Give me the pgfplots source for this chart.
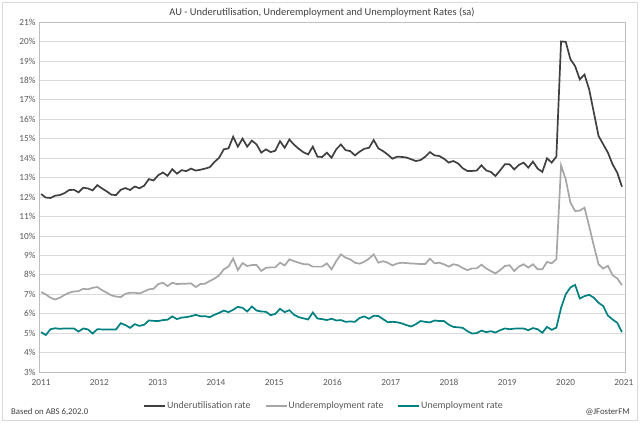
\documentclass[border=0pt]{standalone}
\usepackage{pgfplots}
\pgfplotsset{compat=1.18}
\usepackage{pgfplotstable}
\usepackage{fontspec}
\setmainfont{Carlito}
\definecolor{utl}{HTML}{404040}
\definecolor{uem}{HTML}{A6A6A6}
\definecolor{unr}{HTML}{008080}
\definecolor{txt}{HTML}{595959}
\definecolor{grd}{HTML}{D9D9D9}
\definecolor{frm}{HTML}{BFBFBF}
\pgfplotstableread{
m U UE UR
0 12.15 7.11 5.05
1 11.97 6.99 4.90
2 11.95 6.82 5.20
3 12.07 6.73 5.25
4 12.10 6.82 5.22
5 12.20 6.96 5.24
6 12.36 7.08 5.24
7 12.37 7.14 5.24
8 12.24 7.16 5.08
9 12.48 7.28 5.24
10 12.44 7.25 5.19
11 12.34 7.33 4.98
12 12.61 7.37 5.20
13 12.44 7.21 5.19
14 12.29 7.08 5.19
15 12.12 6.94 5.19
16 12.10 6.88 5.19
17 12.37 6.85 5.51
18 12.46 7.02 5.41
19 12.36 7.08 5.27
20 12.54 7.08 5.46
21 12.45 7.04 5.37
22 12.58 7.14 5.43
23 12.92 7.25 5.65
24 12.85 7.28 5.63
25 13.12 7.52 5.62
26 13.26 7.59 5.67
27 13.09 7.42 5.69
28 13.43 7.59 5.86
29 13.20 7.52 5.72
30 13.38 7.54 5.80
31 13.33 7.54 5.82
32 13.46 7.56 5.87
33 13.36 7.37 5.94
34 13.40 7.52 5.87
35 13.46 7.54 5.87
36 13.53 7.68 5.82
37 13.80 7.80 5.94
38 14.02 7.97 6.04
39 14.45 8.28 6.16
40 14.50 8.42 6.08
41 15.10 8.83 6.20
42 14.59 8.24 6.35
43 15.00 8.60 6.30
44 14.59 8.45 6.11
45 14.90 8.50 6.37
46 14.70 8.50 6.16
47 14.28 8.20 6.11
48 14.45 8.36 6.10
49 14.31 8.38 5.92
50 14.38 8.38 5.99
51 14.87 8.62 6.25
52 14.53 8.48 6.08
53 14.96 8.79 6.18
54 14.69 8.70 5.94
55 14.48 8.62 5.82
56 14.30 8.55 5.76
57 14.19 8.54 5.70
58 14.59 8.42 6.06
59 14.07 8.42 5.75
60 14.06 8.42 5.72
61 14.28 8.59 5.67
62 14.02 8.28 5.74
63 14.45 8.70 5.65
64 14.70 9.05 5.67
65 14.41 8.88 5.58
66 14.36 8.79 5.60
67 14.14 8.62 5.58
68 14.33 8.57 5.78
69 14.48 8.67 5.86
70 14.53 8.83 5.74
71 14.93 9.05 5.89
72 14.50 8.62 5.88
73 14.36 8.70 5.72
74 14.18 8.62 5.56
75 13.97 8.48 5.58
76 14.07 8.58 5.56
77 14.06 8.62 5.50
78 14.03 8.60 5.41
79 13.94 8.58 5.34
80 13.85 8.57 5.46
81 13.90 8.55 5.62
82 14.07 8.55 5.58
83 14.31 8.83 5.55
84 14.14 8.59 5.65
85 14.11 8.62 5.62
86 13.97 8.54 5.62
87 13.77 8.42 5.44
88 13.85 8.54 5.32
89 13.73 8.49 5.30
90 13.48 8.35 5.27
91 13.34 8.24 5.10
92 13.34 8.33 4.98
93 13.36 8.33 5.00
94 13.63 8.52 5.13
95 13.37 8.33 5.05
96 13.29 8.19 5.10
97 13.08 8.07 5.03
98 13.37 8.24 5.15
99 13.68 8.45 5.24
100 13.68 8.49 5.20
101 13.42 8.19 5.23
102 13.65 8.42 5.24
103 13.77 8.54 5.24
104 13.51 8.37 5.15
105 13.82 8.54 5.26
106 13.46 8.28 5.20
107 13.29 8.28 5.02
108 13.99 8.66 5.32
109 13.77 8.59 5.17
110 14.08 8.80 5.28
111 20.00 13.63 6.30
112 19.98 12.90 7.00
113 19.08 11.71 7.35
114 18.73 11.28 7.48
115 18.05 11.30 6.78
116 18.30 11.45 6.90
117 17.53 10.50 6.97
118 16.34 9.49 6.82
119 15.14 8.54 6.56
120 14.71 8.32 6.39
121 14.28 8.46 5.90
122 13.68 7.98 5.70
123 13.25 7.81 5.53
124 12.53 7.47 5.05
}\data
\begin{document}
\begin{tikzpicture}
\useasboundingbox (0,0) rectangle (640bp,423bp);
\draw[grd, line width=0.75bp] (2bp,2.5bp) rectangle (637.5bp,420.5bp);
\begin{axis}[
  at={(39bp,51bp)}, anchor=south west,
  scale only axis, width=586bp, height=350bp,
  xmin=-0.45, xmax=124.65, ymin=3, ymax=21,
  ytick={3,4,...,21},
  yticklabel={\pgfmathprintnumber{\tick}\%},
  xtick={0,12.44,24.88,37.32,49.76,62.2,74.64,87.08,99.52,111.96,124.4},
  xticklabels={2011,2012,2013,2014,2015,2016,2017,2018,2019,2020,2021},
  major tick length=0pt,
  ymajorgrids,
  major grid style={grd, line width=0.75bp},
  axis line style={frm, line width=0.75bp},
  /pgf/number format/assume math mode=true,
  tick label style={font=\fontsize{9.3}{10}\selectfont, text=txt},
  yticklabel style={xshift=0bp},
  xticklabel style={yshift=-3.5bp},
  legend style={at={(0.4855,-0.097)}, anchor=center, draw=none, fill=none,
    font=\fontsize{10}{11}\selectfont, text=txt, legend columns=3,
    /tikz/every even column/.append style={column sep=13bp},
    inner sep=0pt, nodes={inner sep=1bp}},
  legend image code/.code={\draw[#1] (0bp,0bp) -- (21bp,0bp);},
  clip=false,
]
\addplot[utl, line width=1.7bp] table[x expr=\coordindex, y=U]{\data};
\addlegendentry{Underutilisation rate}
\addplot[uem, line width=1.7bp] table[x expr=\coordindex, y=UE]{\data};
\addlegendentry{Underemployment rate}
\addplot[unr, line width=1.7bp] table[x expr=\coordindex, y=UR]{\data};
\addlegendentry{Unemployment rate}
\end{axis}
\node[font=\fontsize{10.5}{12}\selectfont, text=utl] at (322bp,410.5bp) {AU - Underutilisation, Underemployment and Unemployment Rates (sa)};
\node[font=\fontsize{8.8}{10}\selectfont, text=utl, anchor=west, inner sep=0pt] at (11bp,11bp) {Based on ABS 6,202.0};
\node[font=\fontsize{8.8}{10}\selectfont, text=utl, anchor=east, inner sep=0pt] at (630bp,11bp) {@JFosterFM};
\end{tikzpicture}
\end{document}
